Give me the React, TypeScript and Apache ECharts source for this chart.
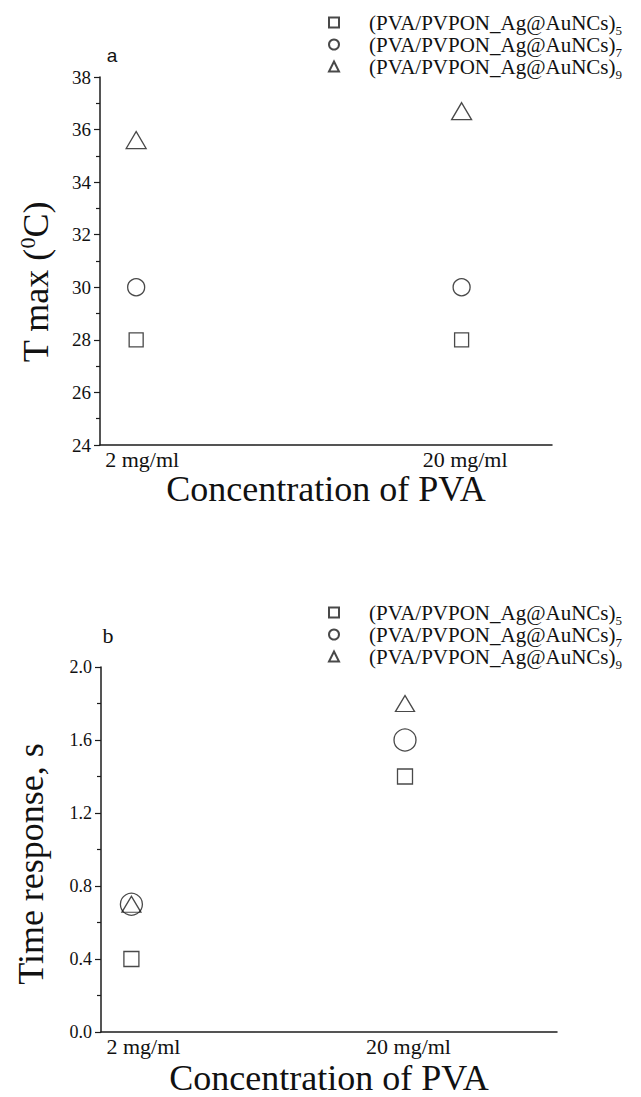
import React, { useEffect, useRef } from 'react';
import * as echarts from 'echarts';

const categories = ['2 mg/ml', '20 mg/ml'];
const concentrations = [2, 20];
const seriesNames = ['(PVA/PVPON_Ag@AuNCs)5', '(PVA/PVPON_Ag@AuNCs)7', '(PVA/PVPON_Ag@AuNCs)9'];
const seriesSymbols = ['rect', 'circle', 'triangle'];

const tmax5 = [28, 28];
const tmax7 = [30, 30];
const tmax9 = [35.6, 36.7];

const resp5 = [0.4, 1.4];
const resp7 = [0.7, 1.6];
const resp9 = [0.7, 1.8];

const SERIF = "'Liberation Serif', 'Times New Roman', serif";
const INK = '#1c1c1c';

function scatter(name: string, idx: number, values: number[], symbol: string, size: any) {
  return {
    type: 'scatter',
    name,
    xAxisIndex: idx,
    yAxisIndex: idx,
    data: concentrations.map((c, i) => [c, values[i]]),
    symbol,
    symbolSize: size,
    itemStyle: { color: 'rgba(255,255,255,0)', borderColor: INK, borderWidth: 1.3 },
    emphasis: { disabled: true },
  };
}

function xAxis(idx: number, max: number, nameGap: number, shifts: number[]) {
  const lab = { fontFamily: SERIF, fontSize: 22, lineHeight: 22, color: '#111' };
  return {
    type: 'value',
    gridIndex: idx,
    min: 0,
    max,
    axisLine: { show: true, onZero: false, lineStyle: { color: INK, width: 1.5 } },
    axisTick: { show: false },
    splitLine: { show: false },
    axisLabel: {
      customValues: concentrations,
      formatter: (v: number) => {
        const i = concentrations.indexOf(v);
        return i >= 0 ? `{c${i}|${categories[i]}}` : '';
      },
      rich: {
        c0: { ...lab, padding: [0, 0, 0, shifts[0]] },
        c1: { ...lab, padding: [0, 0, 0, shifts[1]] },
      },
      ...lab,
      margin: 3,
    },
    name: 'Concentration of PVA',
    nameLocation: 'middle',
    nameGap,
    nameTextStyle: { fontFamily: SERIF, fontSize: 36, color: '#111' },
  };
}

function yAxis(idx: number, min: number, max: number, interval: number, fontSize: number, digits: number) {
  return {
    type: 'value',
    gridIndex: idx,
    min,
    max,
    interval,
    axisLine: { show: true, onZero: false, lineStyle: { color: INK, width: 1.5 } },
    axisTick: { show: true, length: 6, lineStyle: { color: INK, width: 1.2 } },
    minorTick: { show: true, splitNumber: 2, length: 4, lineStyle: { color: INK, width: 1.2 } },
    splitLine: { show: false },
    axisLabel: {
      fontFamily: SERIF,
      fontSize,
      color: '#111',
      margin: 9,
      formatter: (v: number) => v.toFixed(digits),
    },
  };
}

function legend(top: number) {
  return {
    data: seriesNames,
    orient: 'vertical',
    left: 323,
    top,
    itemWidth: 10,
    itemHeight: 10,
    itemGap: -3,
    selectedMode: false,
    formatter: (name: string) => `{n|${name.slice(0, -1)}}{s|${name.slice(-1)}}`,
    textStyle: {
      padding: [0, 0, 0, 25],
      lineHeight: 20,
      rich: {
        n: { fontFamily: SERIF, fontSize: 21, color: '#111', lineHeight: 20, height: 20 },
        s: { fontFamily: SERIF, fontSize: 13, color: '#111', lineHeight: 20, height: 4, verticalAlign: 'bottom' },
      },
    },
  };
}

function yTitle(x: number, y: number, rich: string) {
  return {
    type: 'text',
    x,
    y,
    rotation: Math.PI / 2,
    style: {
      text: rich,
      align: 'center',
      verticalAlign: 'middle',
      rich: {
        t: { fontFamily: SERIF, fontSize: 36, fill: '#111', color: '#111' },
        p: { fontFamily: SERIF, fontSize: 22, fill: '#111', color: '#111', padding: [0, 0, 18, 0] },
      },
    },
  };
}

export default function App() {
  const ref = useRef<HTMLDivElement>(null);
  useEffect(() => {
    if (!ref.current) return;
    const chart = echarts.init(ref.current, undefined, { renderer: 'svg' });
    chart.setOption({
      animation: false,
      backgroundColor: '#fff',
      grid: [
        { left: 100, top: 77, width: 452, height: 368 },
        { left: 101, top: 667, width: 456, height: 367 },
      ],
      xAxis: [xAxis(0, 25, 25, [12, 7]), xAxis(1, 30, 28, [24, 7])],
      yAxis: [yAxis(0, 24, 38, 2, 19, 0), yAxis(1, 0, 2, 0.4, 18, 1)],
      legend: [legend(7), legend(597)],
      series: [
        scatter(seriesNames[0], 0, tmax5, seriesSymbols[0], 14),
        scatter(seriesNames[1], 0, tmax7, seriesSymbols[1], 17),
        scatter(seriesNames[2], 0, tmax9, seriesSymbols[2], [20, 17]),
        scatter(seriesNames[0], 1, resp5, seriesSymbols[0], 15),
        scatter(seriesNames[1], 1, resp7, seriesSymbols[1], 22),
        scatter(seriesNames[2], 1, resp9, seriesSymbols[2], [19, 16]),
      ],
      graphic: [
        {
          type: 'text',
          x: 112,
          y: 55,
          style: { text: 'a', fontFamily: "'Liberation Sans', Arial, sans-serif", fontSize: 19, fill: '#111', align: 'center', verticalAlign: 'middle' },
        },
        {
          type: 'text',
          x: 108,
          y: 635,
          style: { text: 'b', fontFamily: SERIF, fontSize: 22, fill: '#111', align: 'center', verticalAlign: 'middle' },
        },
        yTitle(36, 282, '{t|T max (}{p|0}{t|C)}'),
        yTitle(31, 864, '{t|Time response, s}'),
      ],
    });
    return () => chart.dispose();
  }, []);
  return (
    <div
      ref={ref}
      style={{ position: 'absolute', left: 0, top: 0, width: 641, height: 1097, background: '#fff' }}
    />
  );
}
